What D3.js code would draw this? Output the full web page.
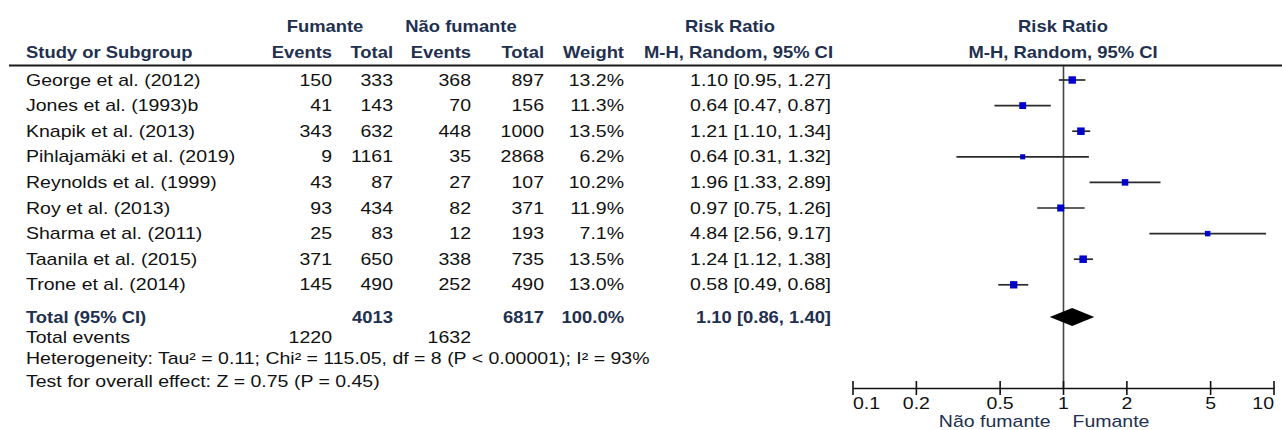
<!DOCTYPE html>
<html>
<head>
<meta charset="utf-8">
<script src="https://cdn.jsdelivr.net/npm/d3@7"></script>
<style>
  html, body { margin: 0; padding: 0; background: #fff; }
  svg { display: block; }
</style>
</head>
<body>
<svg id="chart" width="1282" height="430"></svg>
<script>
// Study-level data
const studies = [
  "George et al. (2012)", "Jones et al. (1993)b", "Knapik et al. (2013)",
  "Pihlajamäki et al. (2019)", "Reynolds et al. (1999)", "Roy et al. (2013)",
  "Sharma et al. (2011)", "Taanila et al. (2015)", "Trone et al. (2014)"
];
const smokerEvents = [150, 41, 343, 9, 43, 93, 25, 371, 145];
const smokerTotal = [333, 143, 632, 1161, 87, 434, 83, 650, 490];
const nonSmokerEvents = [368, 70, 448, 35, 27, 82, 12, 338, 252];
const nonSmokerTotal = [897, 156, 1000, 2868, 107, 371, 193, 735, 490];
const weights = [13.2, 11.3, 13.5, 6.2, 10.2, 11.9, 7.1, 13.5, 13.0];
const riskRatio = [1.10, 0.64, 1.21, 0.64, 1.96, 0.97, 4.84, 1.24, 0.58];
const ciLow = [0.95, 0.47, 1.10, 0.31, 1.33, 0.75, 2.56, 1.12, 0.49];
const ciHigh = [1.27, 0.87, 1.34, 1.32, 2.89, 1.26, 9.17, 1.38, 0.68];

// Pooled result
const totalSmoker = 4013, totalNonSmoker = 6817, totalWeight = 100.0;
const pooledRR = 1.10, pooledLow = 0.86, pooledHigh = 1.40;
const eventsSmoker = 1220, eventsNonSmoker = 1632;
const heterogeneityText = "Heterogeneity: Tau² = 0.11; Chi² = 115.05, df = 8 (P < 0.00001); I² = 93%";
const overallEffectText = "Test for overall effect: Z = 0.75 (P = 0.45)";

// Axis
const axisTicks = [0.1, 0.2, 0.5, 1, 2, 5, 10];
const axisTickLabels = ["0.1", "0.2", "0.5", "1", "2", "5", "10"];
const favoursLeft = "Não fumante", favoursRight = "Fumante";

const svg = d3.select("#chart");
const FONT = "'Liberation Sans', Arial, sans-serif";
const FS = 16, SX = 1.22, SX_BOLD = 1.15;
const HEAD = "#223050";

function txt(x, y, s, anchor = "start", bold = false, color = "#111") {
  return svg.append("text")
    .attr("transform", `translate(${x},${y}) scale(${bold ? SX_BOLD : SX},1)`)
    .attr("text-anchor", anchor)
    .attr("font-family", FONT)
    .attr("font-size", FS)
    .attr("font-weight", bold ? "bold" : "normal")
    .attr("fill", color)
    .text(s);
}

const fmt2 = d3.format(".2f");
const fmt1 = d3.format(".1f");
const ciText = (m, l, h) => `${fmt2(m)} [${fmt2(l)}, ${fmt2(h)}]`;

// Column anchors (right edges)
const col = { name: 26, sE: 332, sT: 393, nE: 471, nT: 544, w: 624, ci: 831 };

// Row layout
const rowY = d3.scaleLinear().domain([0, 1]).range([80, 105.6]);
const BASE = 5.6;

// Header
txt(325, 32, "Fumante", "middle", true, HEAD);
txt(461, 32, "Não fumante", "middle", true, HEAD);
txt(730, 32, "Risk Ratio", "middle", true, HEAD);
txt(1063, 32, "Risk Ratio", "middle", true, HEAD);
txt(col.name, 58, "Study or Subgroup", "start", true, HEAD);
txt(col.sE, 58, "Events", "end", true, HEAD);
txt(col.sT, 58, "Total", "end", true, HEAD);
txt(col.nE, 58, "Events", "end", true, HEAD);
txt(col.nT, 58, "Total", "end", true, HEAD);
txt(col.w, 58, "Weight", "end", true, HEAD);
txt(col.ci + 2, 58, "M-H, Random, 95% CI", "end", true, HEAD);
txt(1063, 58, "M-H, Random, 95% CI", "middle", true, HEAD);

// Forest scale
const x = d3.scaleLog().domain([0.1, 10]).range([853, 1274]);
const sq = d3.scaleSqrt().domain([0, 13.5]).range([0, 7.5]);

const yTotal = 317, yEvents = 337, yHet = 358, yTest = 381;
const yAxis = 388;

// Header rule
svg.append("line")
  .attr("x1", 9).attr("x2", 1282).attr("y1", 65.5).attr("y2", 65.5)
  .attr("stroke", "#1a1a1a").attr("stroke-width", 2);

// Null effect line
svg.append("line")
  .attr("x1", x(1)).attr("x2", x(1)).attr("y1", 66).attr("y2", yAxis)
  .attr("stroke", "#444").attr("stroke-width", 1.6);

// Study rows
studies.forEach((s, i) => {
  const cy = rowY(i);
  const ty = cy + BASE;
  txt(col.name, ty, s);
  txt(col.sE, ty, smokerEvents[i], "end");
  txt(col.sT, ty, smokerTotal[i], "end");
  txt(col.nE, ty, nonSmokerEvents[i], "end");
  txt(col.nT, ty, nonSmokerTotal[i], "end");
  txt(col.w, ty, fmt1(weights[i]) + "%", "end");
  txt(col.ci, ty, ciText(riskRatio[i], ciLow[i], ciHigh[i]), "end");

  svg.append("line")
    .attr("x1", x(ciLow[i])).attr("x2", x(ciHigh[i]))
    .attr("y1", cy).attr("y2", cy)
    .attr("stroke", "#2a2a2a").attr("stroke-width", 1.7);
  const size = sq(weights[i]);
  svg.append("rect")
    .attr("x", x(riskRatio[i]) - size / 2).attr("y", cy - size / 2)
    .attr("width", size).attr("height", size)
    .attr("fill", "#0000cc");
});

// Pooled row
txt(col.name, yTotal + BASE, "Total (95% CI)", "start", true, HEAD);
txt(col.sT, yTotal + BASE, totalSmoker, "end", true, HEAD);
txt(col.nT, yTotal + BASE, totalNonSmoker, "end", true, HEAD);
txt(col.w, yTotal + BASE, fmt1(totalWeight) + "%", "end", true, HEAD);
txt(col.ci, yTotal + BASE, ciText(pooledRR, pooledLow, pooledHigh), "end", true, HEAD);

svg.append("path")
  .attr("d", `M${x(pooledLow)},${yTotal} L${x(pooledRR)},${yTotal - 9} L${x(pooledHigh)},${yTotal} L${x(pooledRR)},${yTotal + 9} Z`)
  .attr("fill", "#000");

txt(col.name, yEvents + BASE, "Total events");
txt(col.sE, yEvents + BASE, eventsSmoker, "end");
txt(col.nE, yEvents + BASE, eventsNonSmoker, "end");
txt(col.name, yHet + BASE, heterogeneityText);
txt(col.name, yTest + BASE, overallEffectText);

// Log axis
const axis = d3.axisBottom(x).tickValues(axisTicks).tickSize(0).tickFormat("");
const gAxis = svg.append("g").attr("transform", `translate(0,${yAxis})`).call(axis);
gAxis.select(".domain").attr("stroke", "#111").attr("stroke-width", 1.6);
gAxis.selectAll(".tick line").remove();
axisTicks.forEach((t, i) => {
  svg.append("line")
    .attr("x1", x(t)).attr("x2", x(t)).attr("y1", yAxis - 7).attr("y2", yAxis + 7)
    .attr("stroke", "#111").attr("stroke-width", 1.6);
  const anchor = i === 0 ? "start" : (i === axisTicks.length - 1 ? "end" : "middle");
  txt(x(t), yAxis + 21, axisTickLabels[i], anchor);
});
txt(x(1) - 13, 427, favoursLeft, "end", false, HEAD);
txt(x(1) + 9, 427, favoursRight, "start", false, HEAD);
</script>
</body>
</html>
